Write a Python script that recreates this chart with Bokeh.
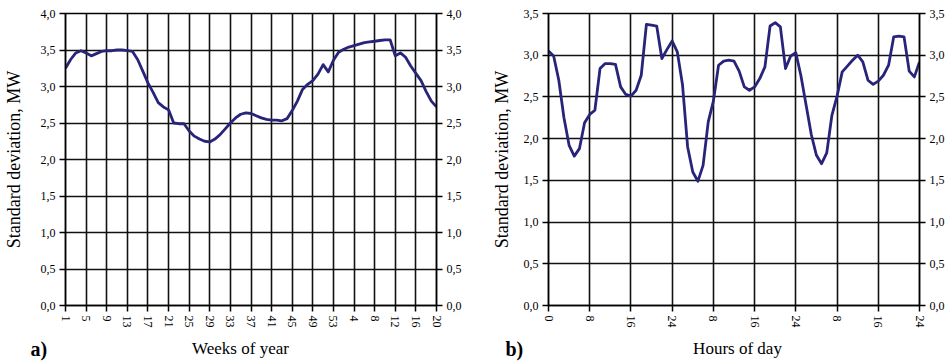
from bokeh.plotting import figure
from bokeh.layouts import row, column
from bokeh.models import (Range1d, LinearAxis, FixedTicker, CustomJSTickFormatter, Label)
from bokeh.embed import file_html
from bokeh.resources import INLINE

# ---------------- data ----------------
# (a) weekly standard deviation; week index 1..73 (1..53 of year 1, then 1..20 of next year)
week_index = list(range(1, 74))
week_std = [3.25, 3.37, 3.46, 3.49, 3.46, 3.42, 3.45, 3.48, 3.49, 3.49,
            3.50, 3.50, 3.49, 3.48, 3.37, 3.21, 3.05, 2.92, 2.78, 2.72,
            2.68, 2.50, 2.49, 2.49, 2.39, 2.32, 2.28, 2.25, 2.24, 2.28,
            2.34, 2.42, 2.50, 2.57, 2.62, 2.64, 2.63, 2.60, 2.57, 2.55,
            2.54, 2.54, 2.53, 2.56, 2.67, 2.80, 2.96, 3.03, 3.08, 3.17,
            3.30, 3.20, 3.36, 3.47, 3.51, 3.54, 3.56, 3.58, 3.60, 3.61,
            3.62, 3.63, 3.64, 3.64, 3.42, 3.46, 3.40, 3.28, 3.18, 3.08,
            2.93, 2.80, 2.72]
week_tick_pos = [1, 5, 9, 13, 17, 21, 25, 29, 33, 37, 41, 45, 49, 53, 57, 61, 65, 69, 73]
week_tick_labels = ["1", "5", "9", "13", "17", "21", "25", "29", "33", "37", "41",
                    "45", "49", "53", "4", "8", "12", "16", "20"]

# (b) hourly standard deviation over three days, hour index 0..72
hour_index = list(range(0, 73))
hour_std = [3.05, 2.99, 2.70, 2.25, 1.92, 1.79, 1.88, 2.19, 2.29, 2.34,
            2.84, 2.90, 2.90, 2.89, 2.62, 2.53, 2.51, 2.58, 2.76, 3.37,
            3.36, 3.35, 2.96, 3.07, 3.17, 3.04, 2.65, 1.90, 1.60, 1.49,
            1.68, 2.20, 2.45, 2.88, 2.93, 2.94, 2.93, 2.81, 2.62, 2.58,
            2.62, 2.72, 2.86, 3.35, 3.39, 3.34, 2.84, 2.99, 3.03, 2.75,
            2.40, 2.05, 1.80, 1.70, 1.83, 2.28, 2.51, 2.80, 2.87, 2.94,
            3.00, 2.92, 2.70, 2.65, 2.69, 2.76, 2.88, 3.22, 3.23, 3.22,
            2.81, 2.74, 2.92]
hour_tick_pos = [0, 8, 16, 24, 32, 40, 48, 56, 64, 72]
hour_tick_labels = ["0", "8", "16", "24", "8", "16", "24", "8", "16", "24"]

y_ticks_a = [0, 0.5, 1, 1.5, 2, 2.5, 3, 3.5, 4]
y_ticks_b = [0, 0.5, 1, 1.5, 2, 2.5, 3, 3.5]

FONT = "Liberation Serif"
LINE_COLOR = "#28247a"
GRID = "#111111"
PANEL_W = 474
MAIN_H = 331
STRIP_H = 30


def style_axis(ax, ticker, fmt=None, overrides=None):
    ax.ticker = ticker
    if fmt is not None:
        ax.formatter = fmt
    if overrides is not None:
        ax.major_label_overrides = overrides
    ax.axis_line_color = "black"
    ax.axis_line_width = 1.5
    ax.major_tick_line_color = "black"
    ax.major_tick_line_width = 1.5
    ax.major_tick_in = 0
    ax.major_tick_out = 6
    ax.minor_tick_line_color = None
    ax.major_label_text_font = FONT
    ax.major_label_text_font_size = "12px"
    ax.major_label_text_color = "black"
    ax.major_label_standoff = 4
    ax.axis_label_text_font = FONT
    ax.axis_label_text_font_style = "normal"
    ax.axis_label_text_color = "black"


def yfmt():
    return CustomJSTickFormatter(code="return tick.toFixed(1).replace('.', ',');")


def make_panel(xs, ys, xr, yr, xticks, xlabels, yticks, left_border, right_border, ylab_standoff):
    p = figure(width=PANEL_W, height=MAIN_H, output_backend="svg", toolbar_location=None,
               x_range=Range1d(*xr), y_range=Range1d(*yr),
               min_border_left=left_border, min_border_right=right_border,
               min_border_top=13, min_border_bottom=MAIN_H - 305)
    p.background_fill_color = "white"
    p.border_fill_color = "white"
    p.outline_line_color = "black"
    p.outline_line_width = 1.5

    xt = FixedTicker(ticks=xticks)
    yt = FixedTicker(ticks=yticks)

    style_axis(p.xaxis[0], xt, overrides={k: v for k, v in zip(xticks, xlabels)})
    p.xaxis[0].major_label_orientation = "vertical"

    style_axis(p.yaxis[0], yt, fmt=yfmt())
    p.yaxis[0].axis_label = "Standard deviation, MW"
    p.yaxis[0].axis_label_text_font_size = "18px"
    p.yaxis[0].axis_label_standoff = ylab_standoff

    ra = LinearAxis()
    style_axis(ra, FixedTicker(ticks=yticks), fmt=yfmt())
    p.add_layout(ra, "right")

    p.xgrid.ticker = xt
    p.ygrid.ticker = yt
    for g in (p.xgrid[0], p.ygrid[0]):
        g.grid_line_color = GRID
        g.grid_line_width = 1.6

    p.line(xs, ys, line_color=LINE_COLOR, line_width=2.8, line_join="round")
    return p


def make_strip(letter, letter_x, xlabel, xlabel_cx):
    s = figure(width=PANEL_W, height=STRIP_H, output_backend="svg", toolbar_location=None,
               title=None,
               x_range=Range1d(0, PANEL_W), y_range=Range1d(0, STRIP_H),
               x_axis_type=None, y_axis_type=None,
               min_border_left=0, min_border_right=0, min_border_top=0, min_border_bottom=0)
    s.outline_line_color = None
    s.grid.visible = False
    s.background_fill_color = "white"
    s.border_fill_color = "white"
    s.add_layout(Label(x=letter_x, y=13, text=letter, text_font=FONT, text_font_size="20px",
                       text_font_style="bold", text_color="black",
                       text_align="left", text_baseline="middle"))
    s.add_layout(Label(x=xlabel_cx, y=13, text=xlabel, text_font=FONT, text_font_size="17px",
                       text_color="black", text_align="center", text_baseline="middle"))
    return s


pa = make_panel(week_index, week_std, (1, 73), (0, 4), week_tick_pos, week_tick_labels,
                y_ticks_a, 64, 38, 14)
pb = make_panel(hour_index, hour_std, (0, 72), (0, 3.5), hour_tick_pos, hour_tick_labels,
                y_ticks_b, 74, 29, 9)
sa = make_strip("a)", 30, "Weeks of year", 240)
sb = make_strip("b)", 31, "Hours of day", 263)

layout = column(row(pa, pb), row(sa, sb))
html = file_html(layout, INLINE)
open("out.html", "w").write(html)
